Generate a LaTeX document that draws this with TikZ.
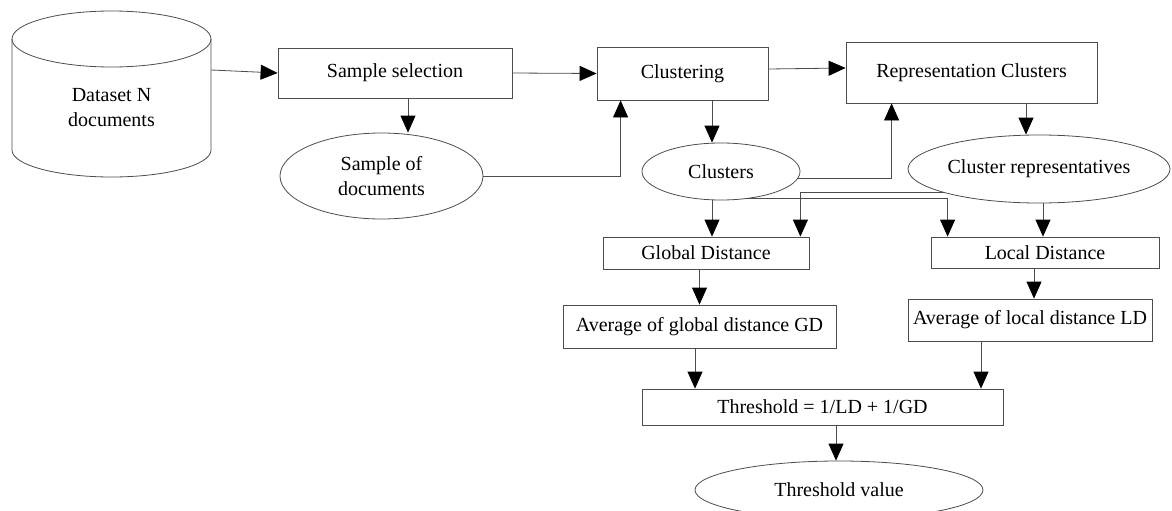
\documentclass[tikz,border=0pt]{standalone}
\usepackage{fontspec}
\setmainfont{Liberation Serif}
\usetikzlibrary{shapes.geometric,arrows.meta}
\begin{document}
\begin{tikzpicture}[x=1pt,y=1pt,
  every node/.style={font=\fontsize{20}{25}\selectfont, inner sep=0pt},
  box/.style={draw=black!70, line width=0.8pt, rectangle},
  oval/.style={draw=black!70, line width=0.8pt, ellipse},
  plain/.style={draw=black!70, line width=0.8pt},
  link/.style={draw=black!70, line width=0.8pt, -{Triangle[length=17pt,width=15pt,color=black]}}]
\useasboundingbox (0,0) rectangle (1172,-511);

% cylinder
\draw[plain] (111.5,-39) ellipse [x radius=99.5, y radius=28];
\draw[plain] (12,-39) -- (12,-150) arc[start angle=180, end angle=360, x radius=99.5, y radius=27] -- (211,-39);
\node[minimum width=199, minimum height=138, align=center] (ds) at (111.5,-108) {Dataset N\\documents};

% nodes
\node[box, minimum width=234, minimum height=50] (sel) at (395,-73) {Sample selection};
\node[box, minimum width=171, minimum height=53] (clu) at (682.5,-73.5) {Clustering};
\node[box, minimum width=251, minimum height=61] (rep) at (971.5,-72.5) {Representation Clusters};
\node[oval, minimum width=203, minimum height=86, align=center] (sod) at (381.5,-176) {Sample of\\documents};
\node[oval, minimum width=158, minimum height=57] (cls) at (721,-171.5) {Clusters};
\node[oval, minimum width=262, minimum height=68] (crep) at (1039,-169) {Cluster representatives};
\node[box, minimum width=206, minimum height=32] (gd) at (706,-253) {Global Distance};
\node[box, minimum width=228, minimum height=31] (ld) at (1045,-252.5) {Local Distance};
\node[box, minimum width=273, minimum height=43] (agd) at (699.5,-326.5) {Average of global distance GD};
\node[box, minimum width=244, minimum height=42] (ald) at (1030,-320) {Average of local distance LD};
\node[box, minimum width=361, minimum height=36] (thr) at (822.5,-407) {Threshold = 1/LD + 1/GD};
\node[oval, minimum width=288, minimum height=58] (tv) at (839,-490) {Threshold value};

% connectors
\draw[link] ([yshift=38pt]ds.east) -- (sel.west);
\draw[link] (sel.east) -- (clu.west);
\draw[link] ([yshift=4.5pt]clu.east) -- ([yshift=4.5pt]rep.west);
\draw[link] ([xshift=13pt]sel.south) -- ([xshift=13pt]sel.south |- sod.north);
\draw[link] (sod.east) -| ([xshift=24pt]clu.south west);
\draw[link] ([xshift=29.5pt]clu.south) -- ([xshift=29.5pt]clu.south |- cls.north);
\draw[link] (cls.355) -| ([xshift=46pt]rep.south west);
\draw[link] ([xshift=54.5pt]rep.south) -- ([xshift=54.5pt]rep.south |- crep.north);
\draw[link] ([xshift=6pt]gd.north |- cls.south) -- ([xshift=6pt]gd.north);
\draw[link] (crep.194) -| ([xshift=-9pt]gd.north east);
\draw[link] (cls.314) -| ([xshift=17pt]ld.north west);
\draw[link] ([xshift=-2pt]ld.north |- crep.south) -- ([xshift=-2pt]ld.north);
\draw[link] (agd.north |- gd.south) -- (agd.north);
\draw[link] ([xshift=-11pt]ld.south) -- ([xshift=-11pt]ld.south |- ald.north);
\draw[link] ([xshift=-4.5pt]agd.south) -- ([xshift=-4.5pt]agd.south |- thr.north);
\draw[link] ([xshift=-49pt]ald.south) -- ([xshift=-49pt]ald.south |- thr.north);
\draw[link] ([xshift=13.5pt]thr.south) -- ([xshift=13.5pt]thr.south |- tv.north);
\end{tikzpicture}
\end{document}
